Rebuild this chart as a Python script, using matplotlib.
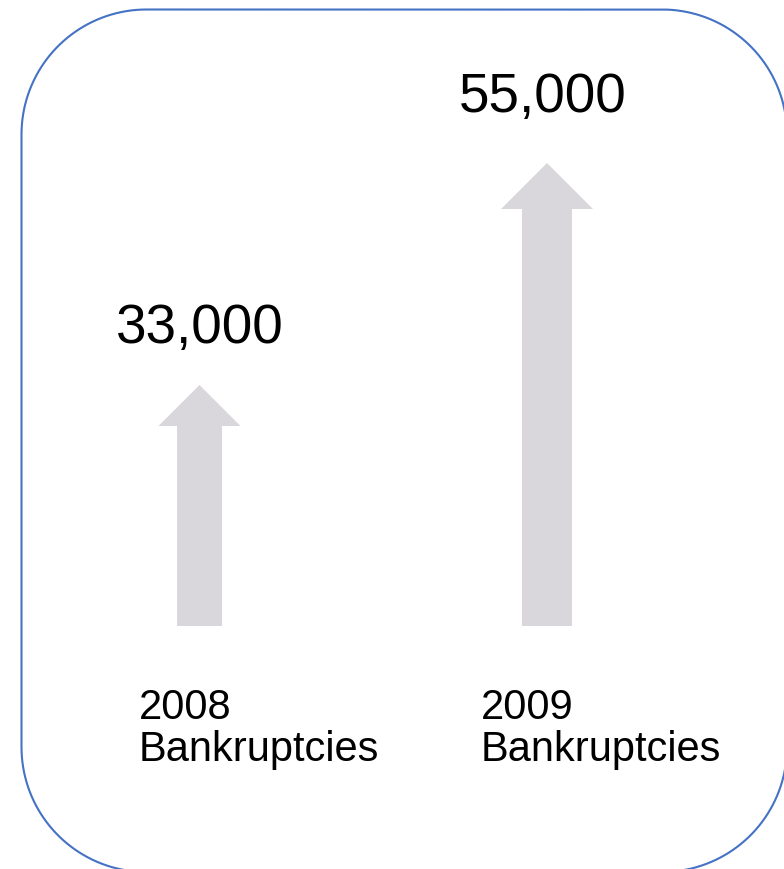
import matplotlib
matplotlib.use("Agg")
import numpy as np
import matplotlib.pyplot as plt
from matplotlib.patches import FancyArrow, PathPatch
from matplotlib.path import Path

# Data
years = ["2008", "2009"]
values = [33000, 55000]
labels = ["Bankruptcies", "Bankruptcies"]

W, H = 784, 869
fig = plt.figure(figsize=(W / 100, H / 100), dpi=100)
ax = fig.add_axes([0, 0, 1, 1])
ax.set_xlim(0, W)
ax.set_ylim(H, 0)
ax.axis("off")

plt.rcParams['font.family'] = ['Liberation Sans', 'DejaVu Sans']

# Rounded border (built as a path)
x0, y0, x1, y1, r = 21.5, 9.5, 787.0, 872.0, 125.0
def arc(cx, cy, a0, a1, n=40):
    t = np.radians(np.linspace(a0, a1, n))
    return np.column_stack([cx + r * np.cos(t), cy + r * np.sin(t)])
# y axis points down: angles measured with +y downward
pts = np.vstack([
    arc(x0 + r, y0 + r, 180, 270),   # top-left
    arc(x1 - r, y0 + r, 270, 360),   # top-right
    arc(x1 - r, y1 - r, 0, 90),      # bottom-right
    arc(x0 + r, y1 - r, 90, 180),    # bottom-left
])
pts = np.vstack([pts, pts[:1]])
ax.add_patch(PathPatch(Path(pts), fill=False, edgecolor="#4472C4", linewidth=1.5))

# Arrow layout (decorative; not to scale)
arrow_cx = [199.5, 547]
arrow_base = [626, 626]
arrow_tip = [385, 163]
shaft_w = [45, 50]
head_w = [82, 92]
head_len = [41, 46]
arrow_color = "#D9D7DC"

for i in range(len(years)):
    a = FancyArrow(arrow_cx[i], arrow_base[i], 0, arrow_tip[i] - arrow_base[i],
                   width=shaft_w[i], head_width=head_w[i], head_length=head_len[i],
                   length_includes_head=True, color=arrow_color, linewidth=0)
    ax.add_patch(a)

# Value labels
val_x = [116, 459]
val_y = [343, 112]
for i, v in enumerate(values):
    ax.text(val_x[i], val_y[i], f"{v:,}", fontsize=39.5, ha="left", va="baseline",
            color="black")

# Category labels
lab_x = [139, 481]
for i in range(len(years)):
    ax.text(lab_x[i], 719, years[i], fontsize=30, ha="left", va="baseline", color="black")
    ax.text(lab_x[i], 761, labels[i], fontsize=30, ha="left", va="baseline", color="black")

fig.savefig("out.png", dpi=100)
